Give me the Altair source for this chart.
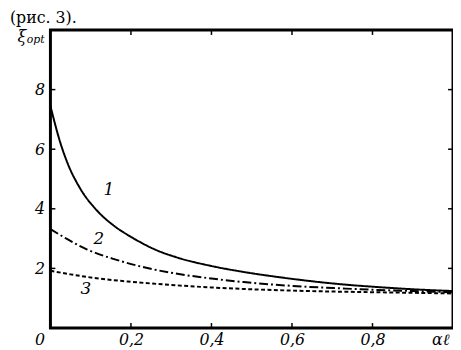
import altair as alt
import pandas as pd

# ---- data ----
x1 = [0, 0.025, 0.042, 0.074, 0.115, 0.156, 0.205, 0.262, 0.316, 0.4, 0.48, 0.56, 0.642, 0.72, 0.806, 0.9, 1.0]
y1 = [7.45, 6.2, 5.55, 4.68, 3.95, 3.45, 3.02, 2.62, 2.36, 2.08, 1.88, 1.72, 1.58, 1.47, 1.38, 1.3, 1.24]

x2 = [0, 0.042, 0.09, 0.12, 0.156, 0.238, 0.319, 0.4, 0.48, 0.56, 0.642, 0.72, 0.806, 0.9, 1.0]
y2 = [3.32, 2.98, 2.64, 2.48, 2.32, 2.02, 1.81, 1.66, 1.54, 1.45, 1.38, 1.33, 1.28, 1.24, 1.2]

x3 = [0, 0.05, 0.12, 0.2, 0.316, 0.4, 0.48, 0.642, 0.806, 0.9, 1.0]
y3 = [1.92, 1.8, 1.66, 1.55, 1.43, 1.36, 1.31, 1.24, 1.2, 1.18, 1.16]

curve_names = ["1", "2", "3"]
label_x = [0.145, 0.12, 0.088]
label_y = [4.63, 2.98, 1.32]

x_ticks = [0.2, 0.4, 0.6, 0.8]
x_label_values = [0, 0.2, 0.4, 0.6, 0.8, 1.0]
y_ticks = [2, 4, 6, 8]

W, H = 408, 302
FONT = "DejaVu Serif"

rows = []
for name, xs_, ys_ in zip(curve_names, [x1, x2, x3], [y1, y2, y3]):
    for a, b in zip(xs_, ys_):
        rows.append({"curve": name, "x": a, "y": b})
df = pd.DataFrame(rows)

xs = alt.Scale(domain=[0, 1], nice=False, zero=False)
ys = alt.Scale(domain=[0, 10], nice=False, zero=False)

x_axis = alt.Axis(
    values=x_label_values, domain=False, ticks=False, grid=False, title=None,
    labelExpr="datum.value == 1 ? 'αℓ' : (datum.value == 0 ? '0' : replace(format(datum.value, '.1f'), '.', ','))",
    labelFont=FONT, labelFontStyle="italic", labelFontSize=16, labelColor="black",
    labelPadding=4, labelFlush=False, labelOffset={"expr": "datum.value == 0 ? -11 : (datum.value == 1 ? -13 : 0)"},
)
y_axis = alt.Axis(
    values=y_ticks, domain=False, ticks=False, grid=False, title=None,
    labelFont=FONT, labelFontStyle="italic", labelFontSize=16, labelColor="black",
    labelPadding=6,
)

dash = alt.Scale(domain=curve_names, range=[[1, 0], [9, 3, 2, 3], [4, 2.5]])

lines = alt.Chart(df).mark_line(color="black", strokeWidth=2, interpolate="monotone").encode(
    x=alt.X("x:Q", scale=xs, axis=x_axis),
    y=alt.Y("y:Q", scale=ys, axis=y_axis),
    strokeDash=alt.StrokeDash("curve:N", scale=dash, legend=None),
    detail="curve:N",
)

lab_df = pd.DataFrame({"t": curve_names, "x": label_x, "y": label_y})
labels = alt.Chart(lab_df).mark_text(font=FONT, fontStyle="italic", fontSize=17, color="black").encode(
    x=alt.X("x:Q", scale=xs), y=alt.Y("y:Q", scale=ys), text="t:N"
)

xt = pd.DataFrame({"x": x_ticks})
yt = pd.DataFrame({"y": y_ticks})
tick_bottom = alt.Chart(xt).mark_rule(color="black", strokeWidth=1.5).encode(
    x=alt.X("x:Q", scale=xs), y=alt.value(H), y2=alt.value(H - 5))
tick_top = alt.Chart(xt).mark_rule(color="black", strokeWidth=1.5).encode(
    x=alt.X("x:Q", scale=xs), y=alt.value(0), y2=alt.value(5))
tick_left = alt.Chart(yt).mark_rule(color="black", strokeWidth=1.5).encode(
    y=alt.Y("y:Q", scale=ys), x=alt.value(0), x2=alt.value(5))
tick_right = alt.Chart(yt).mark_rule(color="black", strokeWidth=1.5).encode(
    y=alt.Y("y:Q", scale=ys), x=alt.value(W), x2=alt.value(W - 5))

one = pd.DataFrame({"x": [0], "y": [10]})
frame = alt.Chart(one).mark_rect(filled=False, stroke="black", strokeWidth=3).encode(
    x=alt.value(0), x2=alt.value(W), y=alt.value(0), y2=alt.value(H))

xi = alt.Chart(one).mark_text(font=FONT, fontStyle="italic", fontSize=16, color="black",
                               dx=-29, dy=7, align="center").encode(
    x=alt.X("x:Q", scale=xs), y=alt.Y("y:Q", scale=ys), text=alt.value("ξ"))
opt = alt.Chart(one).mark_text(font=FONT, fontStyle="italic", fontSize=11, color="black",
                                dx=-24, dy=10, align="left").encode(
    x=alt.X("x:Q", scale=xs), y=alt.Y("y:Q", scale=ys), text=alt.value("opt"))

title = alt.Chart(one).mark_text(font=FONT, fontSize=16, color="black",
                                  dx=-41, dy=-7, align="left", baseline="alphabetic").encode(
    x=alt.X("x:Q", scale=xs), y=alt.Y("y:Q", scale=ys), text=alt.value("(рис. 3)."))

chart = alt.layer(
    lines, labels, tick_bottom, tick_top, tick_left, tick_right, frame, xi, opt, title
).properties(
    width=W, height=H,
    autosize=alt.AutoSizeParams(type="none"),
    padding={"left": 43, "top": 20, "right": 0, "bottom": 20},
).configure_view(stroke=None).configure(background="white")

chart.save("out.html", embed_options={"renderer": "svg", "actions": False})
